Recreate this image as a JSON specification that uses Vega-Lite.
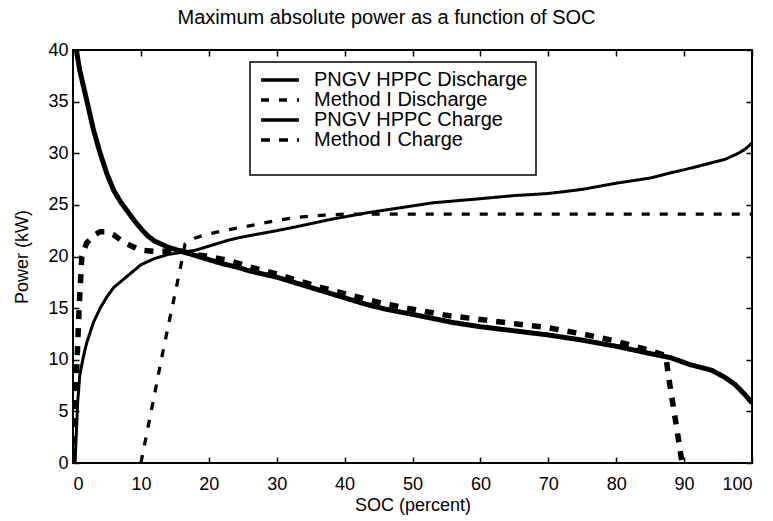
{
  "$schema": "https://vega.github.io/schema/vega-lite/v6.json",
  "width": 679,
  "height": 413,
  "autosize": {"type": "none"},
  "padding": {"left": 73, "top": 50, "right": 21, "bottom": 58},
  "background": "white",
  "config": {
    "font": "Liberation Sans",
    "view": {"stroke": "black", "strokeWidth": 2},
    "axis": {
      "labelFontSize": 18,
      "titleFontSize": 18,
      "titleFontWeight": "normal",
      "labelColor": "black",
      "titleColor": "black",
      "tickColor": "black",
      "tickWidth": 1.5,
      "tickSize": -6,
      "domain": false,
      "grid": false,
      "zindex": 1
    },
    "legend": {
      "labelFontSize": 20,
      "labelColor": "black",
      "labelLimit": 400,
      "strokeColor": "black",
      "strokeWidth": 1.5,
      "fillColor": "white",
      "padding": 8,
      "cornerRadius": 0,
      "symbolType": "M-3.8,0H3.8",
      "symbolStrokeColor": "black",
      "symbolStrokeWidth": 3.5,
      "symbolSize": 100,
      "symbolOffset": 12,
      "labelOffset": 24,
      "rowPadding": 0,
      "titleOrient": "bottom",
      "titleFontSize": 14,
      "titlePadding": 3
    }
  },
  "title": {
    "text": "Maximum absolute power as a function of SOC",
    "fontSize": 20,
    "fontWeight": "normal",
    "color": "black",
    "offset": 13,
    "dx": -26
  },
  "data": {
    "values": [
      {"series": "PNGV HPPC Discharge", "soc": 0.3, "power": 0},
      {"series": "PNGV HPPC Discharge", "soc": 0.5, "power": 3},
      {"series": "PNGV HPPC Discharge", "soc": 0.7, "power": 6},
      {"series": "PNGV HPPC Discharge", "soc": 1, "power": 8.5},
      {"series": "PNGV HPPC Discharge", "soc": 1.5, "power": 10.2},
      {"series": "PNGV HPPC Discharge", "soc": 2, "power": 11.6},
      {"series": "PNGV HPPC Discharge", "soc": 3, "power": 13.6},
      {"series": "PNGV HPPC Discharge", "soc": 4, "power": 15},
      {"series": "PNGV HPPC Discharge", "soc": 5, "power": 16.1},
      {"series": "PNGV HPPC Discharge", "soc": 6, "power": 17},
      {"series": "PNGV HPPC Discharge", "soc": 8, "power": 18.1},
      {"series": "PNGV HPPC Discharge", "soc": 10, "power": 19.2},
      {"series": "PNGV HPPC Discharge", "soc": 12, "power": 19.8},
      {"series": "PNGV HPPC Discharge", "soc": 14, "power": 20.2},
      {"series": "PNGV HPPC Discharge", "soc": 16, "power": 20.4},
      {"series": "PNGV HPPC Discharge", "soc": 18, "power": 20.6},
      {"series": "PNGV HPPC Discharge", "soc": 20, "power": 21},
      {"series": "PNGV HPPC Discharge", "soc": 23, "power": 21.6},
      {"series": "PNGV HPPC Discharge", "soc": 25, "power": 21.9},
      {"series": "PNGV HPPC Discharge", "soc": 30, "power": 22.5},
      {"series": "PNGV HPPC Discharge", "soc": 33, "power": 22.9},
      {"series": "PNGV HPPC Discharge", "soc": 38, "power": 23.6},
      {"series": "PNGV HPPC Discharge", "soc": 43, "power": 24.2},
      {"series": "PNGV HPPC Discharge", "soc": 48, "power": 24.7},
      {"series": "PNGV HPPC Discharge", "soc": 53, "power": 25.2},
      {"series": "PNGV HPPC Discharge", "soc": 60, "power": 25.6},
      {"series": "PNGV HPPC Discharge", "soc": 65, "power": 25.9},
      {"series": "PNGV HPPC Discharge", "soc": 70, "power": 26.1},
      {"series": "PNGV HPPC Discharge", "soc": 75, "power": 26.5},
      {"series": "PNGV HPPC Discharge", "soc": 80, "power": 27.1},
      {"series": "PNGV HPPC Discharge", "soc": 85, "power": 27.6},
      {"series": "PNGV HPPC Discharge", "soc": 88, "power": 28.1},
      {"series": "PNGV HPPC Discharge", "soc": 90, "power": 28.4},
      {"series": "PNGV HPPC Discharge", "soc": 93, "power": 28.9},
      {"series": "PNGV HPPC Discharge", "soc": 96, "power": 29.4},
      {"series": "PNGV HPPC Discharge", "soc": 98, "power": 30},
      {"series": "PNGV HPPC Discharge", "soc": 99, "power": 30.4},
      {"series": "PNGV HPPC Discharge", "soc": 100, "power": 31},

      {"series": "Method I Discharge", "soc": 10, "power": 0},
      {"series": "Method I Discharge", "soc": 11, "power": 3.3},
      {"series": "Method I Discharge", "soc": 12, "power": 6.6},
      {"series": "Method I Discharge", "soc": 13, "power": 10},
      {"series": "Method I Discharge", "soc": 14, "power": 13.2},
      {"series": "Method I Discharge", "soc": 15, "power": 16.3},
      {"series": "Method I Discharge", "soc": 16, "power": 19.5},
      {"series": "Method I Discharge", "soc": 16.5, "power": 21.2},
      {"series": "Method I Discharge", "soc": 18, "power": 21.8},
      {"series": "Method I Discharge", "soc": 20, "power": 22.2},
      {"series": "Method I Discharge", "soc": 23, "power": 22.6},
      {"series": "Method I Discharge", "soc": 27, "power": 23.1},
      {"series": "Method I Discharge", "soc": 30, "power": 23.5},
      {"series": "Method I Discharge", "soc": 33, "power": 23.8},
      {"series": "Method I Discharge", "soc": 37, "power": 24},
      {"series": "Method I Discharge", "soc": 40, "power": 24.1},
      {"series": "Method I Discharge", "soc": 70, "power": 24.1},
      {"series": "Method I Discharge", "soc": 100, "power": 24.1},

      {"series": "PNGV HPPC Charge", "soc": 0.5, "power": 40},
      {"series": "PNGV HPPC Charge", "soc": 1, "power": 38},
      {"series": "PNGV HPPC Charge", "soc": 2, "power": 35.2},
      {"series": "PNGV HPPC Charge", "soc": 3, "power": 32.3},
      {"series": "PNGV HPPC Charge", "soc": 4, "power": 30},
      {"series": "PNGV HPPC Charge", "soc": 5, "power": 28},
      {"series": "PNGV HPPC Charge", "soc": 6, "power": 26.4},
      {"series": "PNGV HPPC Charge", "soc": 7, "power": 25.3},
      {"series": "PNGV HPPC Charge", "soc": 8, "power": 24.4},
      {"series": "PNGV HPPC Charge", "soc": 9, "power": 23.5},
      {"series": "PNGV HPPC Charge", "soc": 10, "power": 22.7},
      {"series": "PNGV HPPC Charge", "soc": 11, "power": 22},
      {"series": "PNGV HPPC Charge", "soc": 12, "power": 21.5},
      {"series": "PNGV HPPC Charge", "soc": 13, "power": 21.2},
      {"series": "PNGV HPPC Charge", "soc": 14, "power": 20.9},
      {"series": "PNGV HPPC Charge", "soc": 16, "power": 20.5},
      {"series": "PNGV HPPC Charge", "soc": 18, "power": 20.1},
      {"series": "PNGV HPPC Charge", "soc": 20, "power": 19.7},
      {"series": "PNGV HPPC Charge", "soc": 22, "power": 19.3},
      {"series": "PNGV HPPC Charge", "soc": 24, "power": 19},
      {"series": "PNGV HPPC Charge", "soc": 26, "power": 18.6},
      {"series": "PNGV HPPC Charge", "soc": 30, "power": 18},
      {"series": "PNGV HPPC Charge", "soc": 33, "power": 17.4},
      {"series": "PNGV HPPC Charge", "soc": 36, "power": 16.8},
      {"series": "PNGV HPPC Charge", "soc": 40, "power": 16},
      {"series": "PNGV HPPC Charge", "soc": 43, "power": 15.4},
      {"series": "PNGV HPPC Charge", "soc": 46, "power": 14.9},
      {"series": "PNGV HPPC Charge", "soc": 50, "power": 14.4},
      {"series": "PNGV HPPC Charge", "soc": 53, "power": 14},
      {"series": "PNGV HPPC Charge", "soc": 56, "power": 13.6},
      {"series": "PNGV HPPC Charge", "soc": 60, "power": 13.2},
      {"series": "PNGV HPPC Charge", "soc": 65, "power": 12.8},
      {"series": "PNGV HPPC Charge", "soc": 70, "power": 12.4},
      {"series": "PNGV HPPC Charge", "soc": 75, "power": 11.9},
      {"series": "PNGV HPPC Charge", "soc": 80, "power": 11.3},
      {"series": "PNGV HPPC Charge", "soc": 85, "power": 10.6},
      {"series": "PNGV HPPC Charge", "soc": 88, "power": 10.2},
      {"series": "PNGV HPPC Charge", "soc": 91, "power": 9.5},
      {"series": "PNGV HPPC Charge", "soc": 94, "power": 9},
      {"series": "PNGV HPPC Charge", "soc": 96, "power": 8.3},
      {"series": "PNGV HPPC Charge", "soc": 97.5, "power": 7.6},
      {"series": "PNGV HPPC Charge", "soc": 99, "power": 6.6},
      {"series": "PNGV HPPC Charge", "soc": 100, "power": 5.8},

      {"series": "Method I Charge", "soc": 0, "power": 0},
      {"series": "Method I Charge", "soc": 0.3, "power": 5},
      {"series": "Method I Charge", "soc": 0.6, "power": 10},
      {"series": "Method I Charge", "soc": 0.9, "power": 15},
      {"series": "Method I Charge", "soc": 1.3, "power": 20},
      {"series": "Method I Charge", "soc": 2, "power": 21.3},
      {"series": "Method I Charge", "soc": 3, "power": 22},
      {"series": "Method I Charge", "soc": 4, "power": 22.4},
      {"series": "Method I Charge", "soc": 5, "power": 22.4},
      {"series": "Method I Charge", "soc": 6, "power": 22.1},
      {"series": "Method I Charge", "soc": 7, "power": 21.6},
      {"series": "Method I Charge", "soc": 8, "power": 21.2},
      {"series": "Method I Charge", "soc": 9, "power": 20.9},
      {"series": "Method I Charge", "soc": 10, "power": 20.6},
      {"series": "Method I Charge", "soc": 12, "power": 20.5},
      {"series": "Method I Charge", "soc": 14, "power": 20.5},
      {"series": "Method I Charge", "soc": 16, "power": 20.5},
      {"series": "Method I Charge", "soc": 18, "power": 20.2},
      {"series": "Method I Charge", "soc": 20, "power": 20},
      {"series": "Method I Charge", "soc": 23, "power": 19.6},
      {"series": "Method I Charge", "soc": 26, "power": 19},
      {"series": "Method I Charge", "soc": 30, "power": 18.3},
      {"series": "Method I Charge", "soc": 33, "power": 17.7},
      {"series": "Method I Charge", "soc": 36, "power": 17.1},
      {"series": "Method I Charge", "soc": 40, "power": 16.4},
      {"series": "Method I Charge", "soc": 43, "power": 15.9},
      {"series": "Method I Charge", "soc": 46, "power": 15.4},
      {"series": "Method I Charge", "soc": 50, "power": 14.9},
      {"series": "Method I Charge", "soc": 55, "power": 14.3},
      {"series": "Method I Charge", "soc": 60, "power": 13.9},
      {"series": "Method I Charge", "soc": 65, "power": 13.5},
      {"series": "Method I Charge", "soc": 70, "power": 13.1},
      {"series": "Method I Charge", "soc": 75, "power": 12.5},
      {"series": "Method I Charge", "soc": 80, "power": 11.8},
      {"series": "Method I Charge", "soc": 85, "power": 10.9},
      {"series": "Method I Charge", "soc": 87.3, "power": 10.4},
      {"series": "Method I Charge", "soc": 87.8, "power": 8},
      {"series": "Method I Charge", "soc": 88.4, "power": 5.5},
      {"series": "Method I Charge", "soc": 89, "power": 3},
      {"series": "Method I Charge", "soc": 89.7, "power": 0}
    ]
  },
  "layer": [
    {
      "transform": [{"filter": "datum.series === 'PNGV HPPC Discharge'"}],
      "mark": {"type": "line", "color": "black", "strokeWidth": 3, "clip": true},
      "encoding": {
        "x": {
          "field": "soc", "type": "quantitative",
          "scale": {"domain": [0, 100], "nice": false, "zero": false},
          "axis": {"orient": "bottom", "title": "SOC (percent)", "values": [0,10,20,30,40,50,60,70,80,90,100], "labelPadding": 18, "titlePadding": 3}
        },
        "y": {
          "field": "power", "type": "quantitative",
          "scale": {"domain": [0, 40], "nice": false},
          "axis": {"orient": "left", "title": "Power (kW)", "values": [0,5,10,15,20,25,30,35,40], "labelPadding": 11, "titlePadding": 16}
        },
        "strokeDash": {
          "field": "series", "type": "nominal",
          "scale": {
            "domain": ["PNGV HPPC Discharge", "Method I Discharge", "PNGV HPPC Charge", "Method I Charge"],
            "range": [[1, 0], [8, 10], [1, 0], [9, 9]]
          },
          "legend": {"title": "\u00a0", "orient": "none", "legendX": 177, "legendY": 12}
        }
      }
    },
    {
      "transform": [{"filter": "datum.series === 'Method I Discharge'"}],
      "mark": {"type": "line", "color": "black", "strokeWidth": 3.3, "strokeCap": "butt", "clip": true},
      "encoding": {
        "x": {"field": "soc", "type": "quantitative", "axis": null},
        "y": {"field": "power", "type": "quantitative", "axis": null},
        "strokeDash": {"field": "series", "type": "nominal"}
      }
    },
    {
      "transform": [{"filter": "datum.series === 'PNGV HPPC Charge'"}],
      "mark": {"type": "line", "color": "black", "strokeWidth": 5, "clip": true},
      "encoding": {
        "x": {"field": "soc", "type": "quantitative", "axis": null},
        "y": {"field": "power", "type": "quantitative", "axis": null},
        "strokeDash": {"field": "series", "type": "nominal"}
      }
    },
    {
      "transform": [{"filter": "datum.series === 'Method I Charge'"}],
      "mark": {"type": "line", "color": "black", "strokeWidth": 5.5, "strokeCap": "butt", "clip": true},
      "encoding": {
        "x": {"field": "soc", "type": "quantitative", "axis": null},
        "y": {"field": "power", "type": "quantitative", "axis": null},
        "strokeDash": {"field": "series", "type": "nominal"}
      }
    },
    {
      "mark": {"type": "line", "opacity": 0},
      "encoding": {
        "x": {
          "field": "soc", "type": "quantitative",
          "axis": {"orient": "top", "title": null, "labels": false, "values": [0,10,20,30,40,50,60,70,80,90,100]}
        },
        "y": {
          "field": "power", "type": "quantitative",
          "axis": {"orient": "right", "title": null, "labels": false, "values": [0,5,10,15,20,25,30,35,40]}
        }
      }
    }
  ],
  "resolve": {"axis": {"x": "independent", "y": "independent"}}
}
